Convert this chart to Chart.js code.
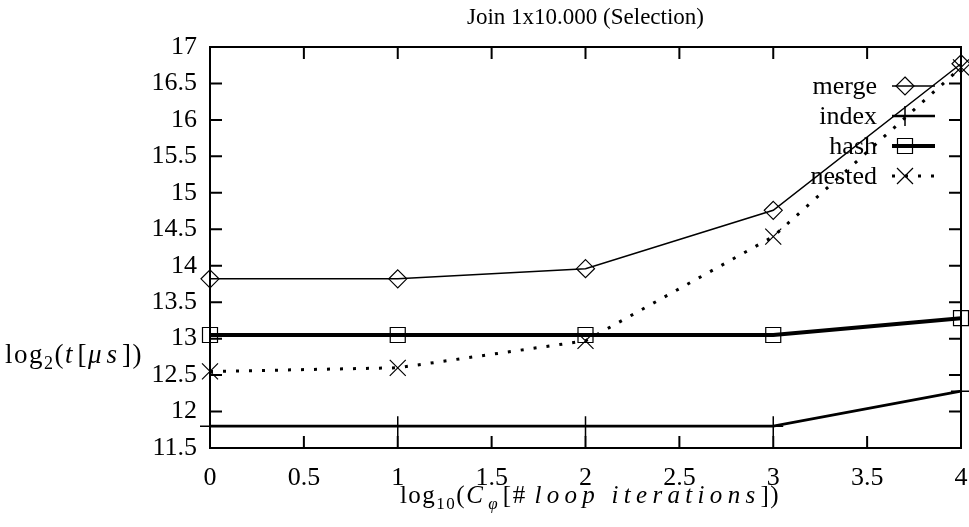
<!DOCTYPE html>
<html>
<head>
<meta charset="utf-8">
<script src="https://cdn.jsdelivr.net/npm/chart.js@4"></script>
<style>
  html, body { margin: 0; padding: 0; background: #fff; }
  #wrap { width: 969px; height: 527px; }
</style>
</head>
<body>
<div id="wrap"><canvas id="chart" width="969" height="527"></canvas></div>
<script>
// Data
const xValues = [0, 1, 2, 3, 4]
const merge = [13.82, 13.82, 13.96, 14.76, 16.77]
const index = [11.8, 11.8, 11.8, 11.8, 12.28]
const hash = [13.05, 13.05, 13.05, 13.05, 13.28]
const nested = [12.55, 12.6, 12.97, 14.4, 16.72]
const seriesNames = ['merge', 'index', 'hash', 'nested']

const FONT = "'Liberation Serif', 'Times New Roman', serif"
const FS = 23
const TICK_FS = 26

const toPoints = (ys) => xValues.map((x, i) => ({ x, y: ys[i] }))

// Draw one marker in the gnuplot style
function marker(ctx, style, x, y) {
  ctx.save()
  ctx.strokeStyle = '#000'
  ctx.beginPath()
  if (style === 'diamond') {
    ctx.lineWidth = 1.2
    ctx.moveTo(x, y - 9); ctx.lineTo(x + 9, y); ctx.lineTo(x, y + 9); ctx.lineTo(x - 9, y); ctx.closePath()
  } else if (style === 'plus') {
    ctx.lineWidth = 1.5
    ctx.moveTo(x - 10, y); ctx.lineTo(x + 10, y); ctx.moveTo(x, y - 10); ctx.lineTo(x, y + 10)
  } else if (style === 'square') {
    ctx.lineWidth = 1.2
    ctx.rect(x - 7.5, y - 7.5, 15, 15)
  } else if (style === 'cross') {
    ctx.lineWidth = 1.2
    ctx.moveTo(x - 8, y - 8); ctx.lineTo(x + 8, y + 8); ctx.moveTo(x + 8, y - 8); ctx.lineTo(x - 8, y + 8)
  }
  ctx.stroke()
  ctx.restore()
}

// Text runs with italics, subscripts and TeX-like wide spacing
function drawRuns(ctx, runs, x, y, align, sp) {
  const fontOf = (r) => `${r.italic ? 'italic ' : ''}${r.sub ? sp.sub : sp.size}px ${FONT}`
  const spacing = (r) => (r.italic ? sp.italic : sp.upright)
  const widthOf = (r) => {
    ctx.font = fontOf(r)
    ctx.letterSpacing = spacing(r) + 'px'
    return ctx.measureText(r.t).width
  }
  let total = 0
  runs.forEach((r) => { total += widthOf(r) })
  let cx = align === 'center' ? x - total / 2 : x
  ctx.fillStyle = '#000'
  ctx.textBaseline = 'alphabetic'
  ctx.textAlign = 'left'
  runs.forEach((r) => {
    const w = widthOf(r)
    ctx.fillText(r.t, cx, r.sub ? y + 6 : y)
    cx += w
  })
  ctx.letterSpacing = '0px'
}

const styles = {
  merge: { width: 1.5, dash: [], marker: 'diamond' },
  index: { width: 2.6, dash: [], marker: 'plus' },
  hash: { width: 4, dash: [], marker: 'square' },
  nested: { width: 3, dash: [3, 10], marker: 'cross' },
}

const framePlugin = {
  id: 'frame',
  beforeDatasetsDraw(chart) {
    const { ctx, chartArea: a, scales } = chart
    ctx.save()
    ctx.strokeStyle = '#000'
    ctx.lineWidth = 2
    ctx.strokeRect(a.left, a.top, a.right - a.left, a.bottom - a.top)
    // inward ticks on all four sides
    ctx.beginPath()
    scales.x.ticks.forEach((t) => {
      const px = scales.x.getPixelForValue(t.value)
      ctx.moveTo(px, a.bottom); ctx.lineTo(px, a.bottom - 12)
      ctx.moveTo(px, a.top); ctx.lineTo(px, a.top + 12)
    })
    scales.y.ticks.forEach((t) => {
      const py = scales.y.getPixelForValue(t.value)
      ctx.moveTo(a.left, py); ctx.lineTo(a.left + 12, py)
      ctx.moveTo(a.right, py); ctx.lineTo(a.right - 12, py)
    })
    ctx.stroke()

    // legend
    ctx.font = `${TICK_FS}px ${FONT}`
    ctx.fillStyle = '#000'
    ctx.textAlign = 'right'
    ctx.textBaseline = 'middle'
    seriesNames.forEach((name, i) => {
      const y = 86 + i * 30
      const s = styles[name]
      ctx.fillText(name, 877, y + 1)
      ctx.save()
      ctx.lineWidth = s.width
      ctx.setLineDash(s.dash)
      ctx.beginPath()
      ctx.moveTo(892, y); ctx.lineTo(935, y)
      ctx.stroke()
      ctx.restore()
      marker(ctx, s.marker, 905, y)
    })

    // titles
    ctx.textAlign = 'center'
    ctx.textBaseline = 'alphabetic'
    ctx.font = `${FS}px ${FONT}`
    ctx.fillText('Join 1x10.000 (Selection)', (a.left + a.right) / 2, 24)
    drawRuns(ctx, [
      { t: 'log' }, { t: '2', sub: true }, { t: '(' }, { t: 't', italic: true },
      { t: '[' }, { t: 'μs', italic: true }, { t: '])' },
    ], 5, 363, 'left', { size: 27, sub: 18, upright: 1.5, italic: 5 })
    drawRuns(ctx, [
      { t: 'log' }, { t: '10', sub: true }, { t: '(' }, { t: 'C', italic: true },
      { t: 'φ', italic: true, sub: true }, { t: '[# ' }, { t: 'loop iterations', italic: true },
      { t: '])' },
    ], 590, 503, 'center', { size: 25, sub: 17, upright: 1.5, italic: 5.3 })
    ctx.restore()
  },
  afterDatasetsDraw(chart) {
    const { ctx, scales } = chart
    chart.data.datasets.forEach((ds) => {
      ds.data.forEach((p) => {
        marker(ctx, styles[ds.label].marker, scales.x.getPixelForValue(p.x), scales.y.getPixelForValue(p.y))
      })
    })
  },
}

const datasets = [
  { label: 'merge', data: toPoints(merge) },
  { label: 'index', data: toPoints(index) },
  { label: 'hash', data: toPoints(hash) },
  { label: 'nested', data: toPoints(nested) },
].map((d) => ({
  ...d,
  borderColor: '#000',
  borderWidth: styles[d.label].width,
  borderDash: styles[d.label].dash,
  borderCapStyle: 'butt',
  pointRadius: 0,
  tension: 0,
  clip: false,
}))

new Chart(document.getElementById('chart'), {
  type: 'line',
  data: { datasets },
  plugins: [framePlugin],
  options: {
    responsive: false,
    animation: false,
    layout: { padding: { left: 0, right: 8, top: 47, bottom: 0 } },
    plugins: { legend: { display: false }, tooltip: { enabled: false }, title: { display: false } },
    scales: {
      x: {
        type: 'linear',
        min: 0,
        max: 4,
        grid: { display: false, drawTicks: false },
        border: { display: false },
        ticks: {
          stepSize: 0.5, color: '#000', padding: 15, maxRotation: 0,
          font: { family: FONT, size: TICK_FS },
          callback: (v) => String(v),
        },
        afterFit(s) { s.height = 79; s.paddingLeft = 0; s.paddingRight = 0 },
      },
      y: {
        min: 11.5,
        max: 17,
        grid: { display: false, drawTicks: false },
        border: { display: false },
        ticks: {
          stepSize: 0.5, color: '#000', padding: 13,
          font: { family: FONT, size: TICK_FS },
          callback: (v) => String(v),
        },
        afterFit(s) { s.width = 210; s.paddingTop = 0; s.paddingBottom = 0 },
      },
    },
  },
})
</script>
</body>
</html>
